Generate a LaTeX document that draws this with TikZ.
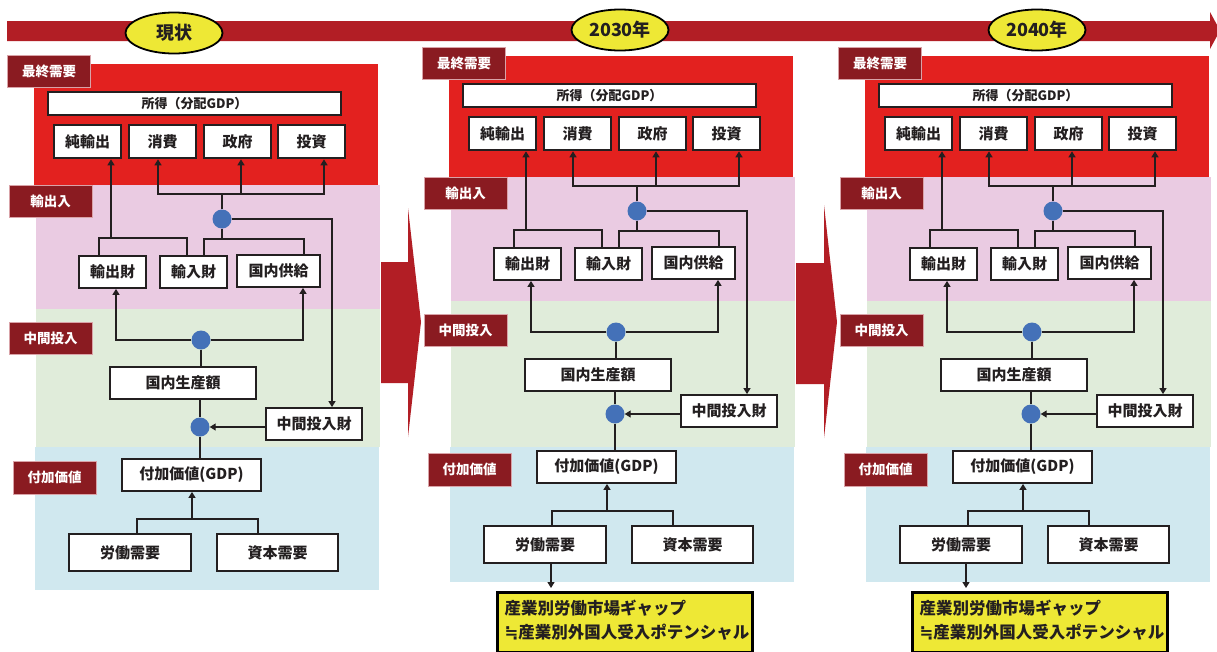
\documentclass[tikz,border=0pt]{standalone}
\usepackage{fontspec}
\setmainfont{Noto Sans CJK JP}
\newfontfamily\symfont{DejaVu Sans}
\usetikzlibrary{arrows.meta,shapes.geometric}
\definecolor{barred}{HTML}{B21E25}
\definecolor{redbg}{HTML}{E3211F}
\definecolor{pinkbg}{HTML}{EACBE2}
\definecolor{greenbg}{HTML}{E0ECDA}
\definecolor{bluebg}{HTML}{D0E8EF}
\definecolor{grpred}{HTML}{8A1B21}
\definecolor{grpline}{HTML}{D9A3A8}
\definecolor{dotblue}{HTML}{4471B8}
\definecolor{lin}{HTML}{231F20}
\definecolor{ylw}{HTML}{EEE835}
\tikzset{
  box/.style={draw=lin, line width=1.8pt, fill=white, inner sep=0pt, text=lin,
    font=\fontsize{15}{17}\selectfont\bfseries},
  tbox/.style={box, line width=2.6pt},
  grp/.style={draw=grpline, line width=1pt, fill=grpred, text=white, inner sep=0pt,
    minimum width=83pt, minimum height=32pt, font=\fontsize{13.5}{15}\selectfont\bfseries},
  dot/.style={circle, fill=dotblue, minimum size=19pt, inner sep=0pt},
  con/.style={draw=lin, line width=1.3pt},
  arr/.style={con, -{Triangle[length=6pt,width=7pt]}},
  yr/.style={ellipse, draw=black, line width=1.8pt, fill=ylw, minimum width=97pt,
    minimum height=41pt, inner sep=0pt, text=lin, font=\fontsize{18}{20}\selectfont\bfseries},
  ybox/.style={draw=black, line width=3pt, fill=ylw, anchor=north west, align=left,
    text width=241pt, inner xsep=7pt, inner ysep=8pt, text depth=30pt, text=lin,
    font=\fontsize{16.5}{24}\selectfont\bfseries},
}
\newcommand\panel[4]{%
\begin{scope}[shift={(#2,#3)}]
  \fill[redbg] (34,56) rectangle (378,177);
  \fill[pinkbg] (36,177) rectangle (380,301);
  \fill[greenbg] (36,301) rectangle (380,{447-#3});
  \fill[bluebg] (35,{447-#3}) rectangle (379,582);
  \node[grp] (#1-l1) at (49,63) {最終需要};
  \node[grp] (#1-l2) at (50.5,193.5) {輸出入};
  \node[grp] (#1-l3) at (50.5,330.5) {中間投入};
  \node[grp, minimum height=33pt] (#1-l4) at (54.5,469.5) {付加価値};
  \node[box, line width=2.4pt, minimum width=293pt, minimum height=23pt,
    font=\fontsize{13}{15}\selectfont\bfseries] (#1-so) at (194.5,95.5) {所得（分配GDP）};
  \node[tbox, minimum width=67pt, minimum height=33pt] (#1-ne) at (87.5,133.5) {純輸出};
  \node[tbox, minimum width=67pt, minimum height=33pt] (#1-cs) at (162.5,133.5) {消費};
  \node[tbox, minimum width=67pt, minimum height=33pt] (#1-sf) at (237.5,133.5) {政府};
  \node[tbox, minimum width=67pt, minimum height=33pt] (#1-ts) at (311.5,133.5) {投資};
  \node[box, minimum width=67pt, minimum height=32pt] (#1-yo) at (112.5,264) {輸出財};
  \node[box, minimum width=67pt, minimum height=32pt] (#1-yu) at (193.5,264) {輸入財};
  \node[box, minimum width=83pt, minimum height=32pt] (#1-kk) at (278.5,263) {国内供給};
  \node[box, minimum width=146pt, minimum height=32pt] (#1-sg) at (183,375) {国内生産額};
  \node[box, minimum width=96pt, minimum height=32pt] (#1-cz) at (314,{411+#4}) {中間投入財};
  \node[box, minimum width=139pt, minimum height=32pt] (#1-gdp) at (191.5,467) {付加価値(GDP)};
  \node[box, minimum width=122pt, minimum height=37pt] (#1-rd) at (130,544.5) {労働需要};
  \node[box, minimum width=121pt, minimum height=37pt] (#1-sh) at (277.5,544.5) {資本需要};
  \node[dot] (#1-c1) at (222,211) {};
  \node[dot] (#1-c2) at (201,332) {};
  \node[dot] (#1-c3) at (200,{414+#4}) {};
  \coordinate (#1-j1) at (222,186);
  \coordinate (#1-j2) at (222,231);
  \coordinate (#1-j3) at (111,231);
  \coordinate (#1-j4) at (192,511);
  % final demand
  \draw[con] (#1-c1) -- (#1-j1);
  \draw[arr] (#1-j1) -| ([xshift=-4.5pt]#1-cs.south);
  \draw[arr] (#1-j1) -| ([xshift=3.5pt]#1-sf.south);
  \draw[arr] (#1-j1) -| ([xshift=12.5pt]#1-ts.south);
  % imports / domestic supply
  \draw[con] (#1-c1) -- (#1-j2);
  \draw[con] ([xshift=10.5pt]#1-yu.north) -- ++(0,-16) -| ([xshift=25.5pt]#1-kk.north);
  % exports
  \draw[con] ([xshift=-13.5pt]#1-yo.north) -- ++(0,-17) -| ([xshift=-6.5pt]#1-yu.north);
  \draw[arr] (#1-j3) -- ([xshift=23.5pt]#1-ne.south);
  % intermediate
  \draw[arr] (#1-c1) -| ([xshift=18pt]#1-cz.north);
  \draw[arr] (#1-c2) -| ([xshift=3.5pt]#1-yo.south);
  \draw[arr] (#1-c2) -| ([xshift=24.5pt]#1-kk.south);
  \draw[con] (#1-c2) -- (#1-c2 |- #1-sg.north);
  \draw[con] (#1-sg.south -| #1-c3) -- (#1-c3);
  \draw[arr] (#1-cz.west |- #1-c3) -- (#1-c3);
  \draw[con] (#1-c3) -- (#1-c3 |- #1-gdp.north);
  % value added
  \draw[arr] (#1-j4) -- (#1-gdp.south -| #1-j4);
  \draw[con] ([xshift=7pt]#1-rd.north) |- (#1-j4) -| ([xshift=-19.5pt]#1-sh.north);
\end{scope}}
\begin{document}
\begin{tikzpicture}[x=1pt,y=-1pt]
\clip (0,0) rectangle (1217,651);
\fill[white] (0,0) rectangle (1217,651);
% time bar
\fill[barred] (7,21) -- (1210,21) -- (1210,12) -- (1220,30.5) -- (1210,49) -- (1210,41) -- (7,41) -- cycle;
% chevrons
\fill[barred] (381,262) -- (408,262) -- (408,208) -- (421,322) -- (408,437) -- (408,383) -- (381,383) -- cycle;
\fill[barred] (796,263) -- (824,263) -- (824,205) -- (837,322) -- (824,438) -- (824,384) -- (796,384) -- cycle;
\panel{a}{0}{8}{5}
\panel{b}{415}{0}{0}
\panel{c}{831}{0}{0}
\node[yr] (e1) at (174,33) {現状};
\node[yr] (e2) at (620,30) {2030年};
\node[yr] (e3) at (1037,30) {2040年};
\node[ybox] (b-y) at (496,591) {産業別労働市場ギャップ\\{\symfont\bfseries ≒}産業別外国人受入ポテンシャル};
\node[ybox] (c-y) at (911,591) {産業別労働市場ギャップ\\{\symfont\bfseries ≒}産業別外国人受入ポテンシャル};
\draw[arr] ([xshift=6pt]b-rd.south) -- ([xshift=55pt,yshift=3pt]b-y.north west);
\draw[arr] ([xshift=5pt]c-rd.south) -- ([xshift=55pt,yshift=3pt]c-y.north west);
\end{tikzpicture}
\end{document}
